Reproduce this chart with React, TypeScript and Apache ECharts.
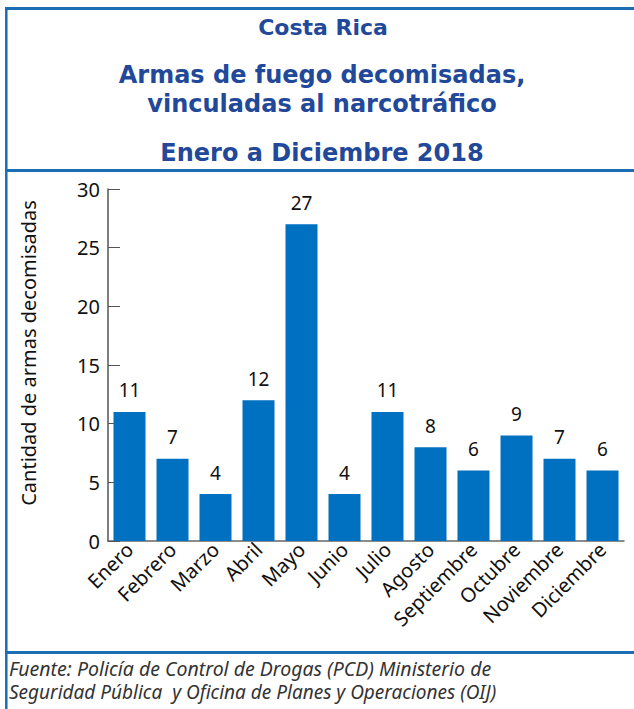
import React, { useEffect, useRef } from "react";
import * as echarts from "echarts";

const months = ["Enero", "Febrero", "Marzo", "Abril", "Mayo", "Junio", "Julio", "Agosto", "Septiembre", "Octubre", "Noviembre", "Diciembre"];
const values = [11, 7, 4, 12, 27, 4, 11, 8, 6, 9, 7, 6];
const titleLines = ["Costa Rica", "Armas de fuego decomisadas,", "vinculadas al narcotráfico", "Enero a Diciembre 2018"];
const yAxisName = "Cantidad de armas decomisadas";
const sourceLines = [
  "Fuente: Policía de Control de Drogas (PCD) Ministerio de",
  "Seguridad Pública  y Oficina de Planes y Operaciones (OIJ)",
];

const BORDER = "#1b6db4";
const TITLE = "#22489a";
const BAR = "#0070c0";

export default function App() {
  const ref = useRef<HTMLDivElement>(null);
  useEffect(() => {
    document.body.style.margin = "0";
    const chart = echarts.init(ref.current!, null, { renderer: "svg" });
    const titleFont = "'DejaVu Sans', 'Liberation Sans', sans-serif";
    const axisFont = "'Noto Sans', 'Open Sans', sans-serif";
    chart.setOption({
      animation: false,
      backgroundColor: "#ffffff",
      grid: { left: 108, right: 10, top: 189, bottom: 168, containLabel: false },
      xAxis: {
        type: "category",
        data: months,
        axisLine: { lineStyle: { color: "#666", width: 1.5 } },
        axisTick: { inside: true, length: 6, lineStyle: { color: "#666" } },
        axisLabel: { rotate: 45, fontSize: 20, color: "#111", fontFamily: axisFont, margin: 5, interval: 0 },
      },
      yAxis: {
        type: "value",
        min: 0,
        max: 30,
        interval: 5,
        splitLine: { show: false },
        axisLine: { show: true, lineStyle: { color: "#555", width: 1.5 } },
        axisTick: { show: true, inside: true, length: 12, lineStyle: { color: "#555" } },
        axisLabel: { fontSize: 20, color: "#111", fontFamily: axisFont, margin: 8 },
      },
      series: [
        {
          type: "bar",
          data: values,
          barWidth: 32,
          itemStyle: { color: BAR },
          label: { show: true, position: "top", distance: 12, fontSize: 19, color: "#111", fontFamily: axisFont },
        },
      ],
      graphic: [
        { type: "line", shape: { x1: 6.3, y1: 7, x2: 6.3, y2: 709 }, style: { stroke: BORDER, lineWidth: 2.5 } },
        { type: "line", shape: { x1: 5, y1: 8.5, x2: 634, y2: 8.5 }, style: { stroke: BORDER, lineWidth: 3 } },
        { type: "line", shape: { x1: 5, y1: 170.5, x2: 634, y2: 170.5 }, style: { stroke: BORDER, lineWidth: 3 } },
        { type: "line", shape: { x1: 5, y1: 652.5, x2: 634, y2: 652.5 }, style: { stroke: BORDER, lineWidth: 3 } },
        { type: "text", x: 323, y: 27, style: { text: titleLines[0], fill: TITLE, font: `bold 22px ${titleFont}`, textAlign: "center", textVerticalAlign: "middle" } },
        { type: "text", x: 322, y: 75, style: { text: titleLines[1], fill: TITLE, font: `bold 24px ${titleFont}`, textAlign: "center", textVerticalAlign: "middle" } },
        { type: "text", x: 322, y: 104, style: { text: titleLines[2], fill: TITLE, font: `bold 24px ${titleFont}`, textAlign: "center", textVerticalAlign: "middle" } },
        { type: "text", x: 322, y: 153, style: { text: titleLines[3], fill: TITLE, font: `bold 24px ${titleFont}`, textAlign: "center", textVerticalAlign: "middle" } },
        { type: "text", x: 28, y: 353, rotation: Math.PI / 2, style: { text: yAxisName, fill: "#111", font: `20px ${axisFont}`, textAlign: "center", textVerticalAlign: "middle" } },
        { type: "text", x: 9, y: 668, style: { text: sourceLines[0], fill: "#333", font: `italic 19.5px ${axisFont}`, textAlign: "left", textVerticalAlign: "middle" } },
        { type: "text", x: 9, y: 692, style: { text: sourceLines[1], fill: "#333", font: `italic 19px ${axisFont}`, textAlign: "left", textVerticalAlign: "middle" } },
      ],
    });
    return () => chart.dispose();
  }, []);
  return <div ref={ref} style={{ width: 634, height: 709 }} />;
}
